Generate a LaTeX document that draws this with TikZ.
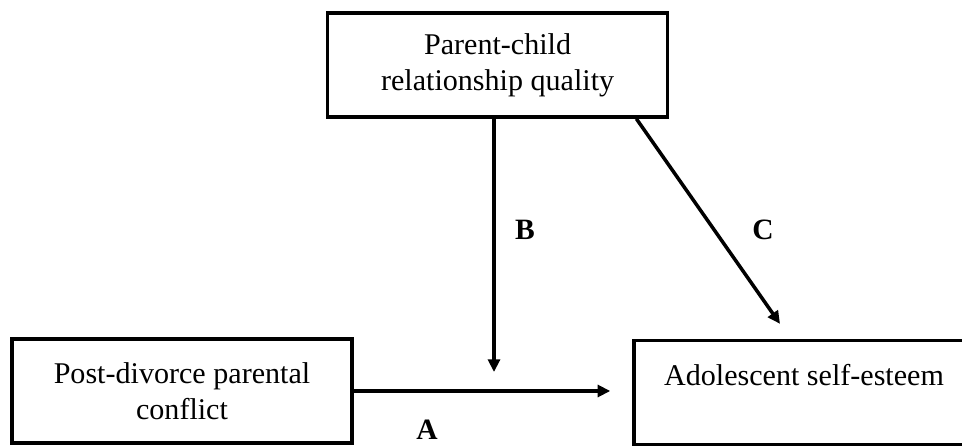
\documentclass[tikz,border=0pt]{standalone}
\usepackage{fontspec}
\setmainfont{Liberation Serif}
\usepackage{tikz}
\usetikzlibrary{arrows.meta,positioning,calc}

\tikzset{
  varbox/.style={draw, line width=2.5pt, rectangle, minimum width=8.5cm, minimum height=2.6cm, align=center, font=\fontsize{21.4}{25.5}\selectfont},
  path/.style={line width=2.5pt, -{Triangle[length=9pt, width=8.5pt]}},
  lbl/.style={font=\fontsize{21}{24}\selectfont\bfseries, inner sep=0pt}
}

\begin{document}
\begin{tikzpicture}

\clip (0,0) rectangle (24.05,11.175);

% Variables
\node[varbox] (pcr) at (12.44, 9.55) {Parent-child\\relationship quality};
\node[varbox] (conflict) at (4.55, 1.4) {Post-divorce parental\\conflict};
\node[varbox] (esteem) at (20.1, 1.36) {Adolescent self-esteem\\~};

% Paths
\coordinate (join) at (12.35, 1.875);
\draw[path, shorten >=0.55cm] (conflict.east) -- (conflict.east -| esteem.west);
\draw[path] (join |- pcr.south) -- (join);
\draw[path] ($(pcr.south east)+(-0.825,0)$) -- ($(esteem.north)+(-0.6,0.375)$);

% Labels
\node[lbl] (labA) at (10.675, 0.42) {A};
\node[lbl] (labB) at (13.125, 5.425) {B};
\node[lbl] (labC) at (19.075, 5.425) {C};

\end{tikzpicture}
\end{document}
